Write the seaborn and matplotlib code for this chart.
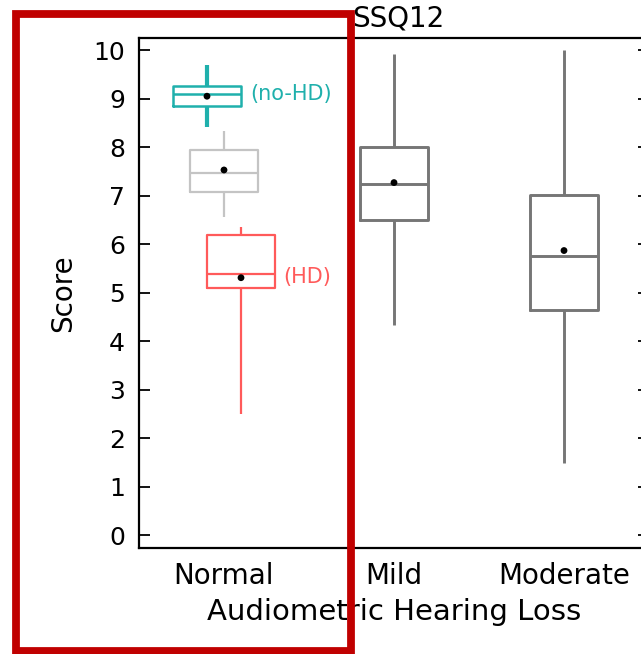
import numpy as np
import pandas as pd
import matplotlib
matplotlib.use("Agg")
import matplotlib.pyplot as plt
import matplotlib.patches as mpatches
import seaborn as sns

# ---------------- data ----------------
categories = ["Normal", "Mild", "Moderate"]
box_category = ["Normal", "Normal", "Normal", "Mild", "Moderate"]
box_group = ["no-HD", "all", "HD", "all", "all"]
whisker_low = [8.41, 6.56, 2.50, 4.34, 1.50]
q1 = [8.85, 7.07, 5.09, 6.49, 4.64]
median = [9.10, 7.47, 5.38, 7.25, 5.75]
q3 = [9.26, 7.94, 6.18, 8.01, 7.01]
whisker_high = [9.70, 8.33, 6.35, 9.93, 10.00]
means = [9.05, 7.53, 5.31, 7.27, 5.87]
yticks = [0, 1, 2, 3, 4, 5, 6, 7, 8, 9, 10]

# ---------------- style ----------------
sns.set_style("white")
plt.rcParams["font.family"] = ["DejaVu Sans"]
plt.rcParams["text.color"] = "black"
plt.rcParams["axes.labelcolor"] = "black"
plt.rcParams["xtick.color"] = "black"
plt.rcParams["ytick.color"] = "black"

group_offset = {"no-HD": -0.1, "all": 0.0, "HD": 0.1}
styles = [
    # (group, categories, color, box lw, whisker lw)
    ("no-HD", ["Normal"], "#1fb0ac", 1.8, 3.0),
    ("all", ["Normal"], "#c4c4c4", 1.6, 1.6),
    ("HD", ["Normal"], "#ff5a5a", 1.6, 1.6),
    ("all", ["Mild", "Moderate"], "#767676", 2.1, 2.1),
]

# build a table with the five summary values for each box
rows = []
for i in range(len(box_category)):
    pos = categories.index(box_category[i]) + group_offset[box_group[i]]
    for v in (whisker_low[i], q1[i], median[i], q3[i], whisker_high[i]):
        rows.append({"cat": box_category[i], "group": box_group[i],
                     "pos": pos, "score": v})
df = pd.DataFrame(rows)

W, H = 641, 654
fig = plt.figure(figsize=(W / 100, H / 100), dpi=100)
ax = fig.add_axes([139 / W, (H - 548) / H, (649 - 139) / W, (548 - 37.5) / H])

for grp, cats, color, lw, wlw in styles:
    sub = df[(df["group"] == grp) & (df["cat"].isin(cats))]
    sns.boxplot(data=sub, x="pos", y="score", native_scale=True, width=0.4,
                color=color, fill=False, whis=(0, 100), showcaps=False,
                showfliers=False, linewidth=lw,
                boxprops=dict(linewidth=lw, color=color),
                medianprops=dict(linewidth=lw, color=color),
                whiskerprops=dict(linewidth=wlw, color=color),
                ax=ax)

# means
mean_x = [categories.index(c) + group_offset[g] for c, g in zip(box_category, box_group)]
sns.scatterplot(x=mean_x, y=means, color="black", s=24, edgecolor="none",
                zorder=6, legend=False, ax=ax)

# annotations
ax.text(0.153, median[0], "(no-HD)", color="#1fb0ac", fontsize=15,
        ha="left", va="center")
ax.text(0.347, 5.33, "(HD)", color="#ff5a5a", fontsize=15,
        ha="left", va="center")

ax.set_xlim(-0.5, 2.5)
ax.set_ylim(-0.26, 10.26)
ax.set_xticks(range(len(categories)))
ax.set_xticklabels(categories, fontsize=20)
ax.set_yticks(yticks)
ax.set_yticklabels([str(t) for t in yticks], fontsize=18)
ax.tick_params(axis="x", length=0, pad=10)
ax.tick_params(axis="y", direction="in", length=8, width=1.3, pad=10,
               left=True, right=True, colors="black")
for s in ax.spines.values():
    s.set_visible(True)
    s.set_color("black")
    s.set_linewidth(1.6)

ax.set_xlabel("Audiometric Hearing Loss", fontsize=21, va="center")
ax.xaxis.set_label_coords((394 - 139) / 510, (548 - 612) / 510.5)
ax.set_ylabel("Score", fontsize=20, va="center")
ax.yaxis.set_label_coords((63 - 139) / 510, 0.5)

fig.text(398 / W, 1 - 27 / H, "SSQ12", fontsize=20, ha="center", va="baseline")

# red highlight frame
rect = mpatches.Rectangle((16 / W, 1 - 651 / H), (351 - 16) / W, (651 - 14) / H,
                          transform=fig.transFigure, fill=False,
                          edgecolor="#c00000", linewidth=5.6, zorder=100)
fig.add_artist(rect)

fig.savefig("out.png", dpi=100)
